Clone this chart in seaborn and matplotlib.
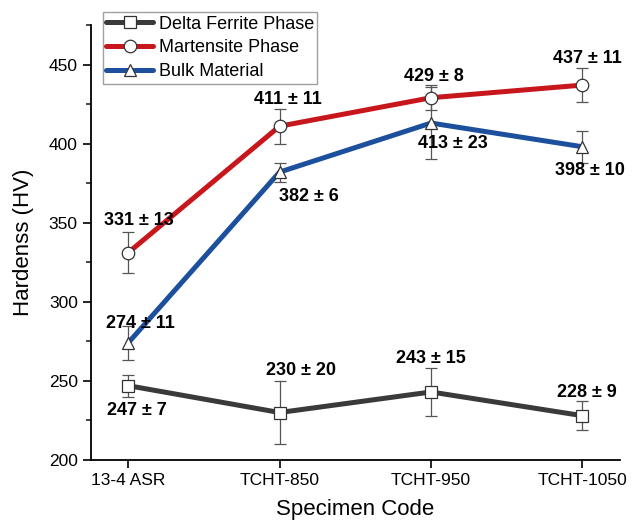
import numpy as np
import pandas as pd
import matplotlib
matplotlib.use('Agg')
import matplotlib.pyplot as plt
import seaborn as sns
from matplotlib.ticker import MultipleLocator

# Data
specimens = ['13-4 ASR', 'TCHT-850', 'TCHT-950', 'TCHT-1050']

delta_mean = [247, 230, 243, 228]
delta_err = [7, 20, 15, 9]

mart_mean = [331, 411, 429, 437]
mart_err = [13, 11, 8, 11]

bulk_mean = [274, 382, 413, 398]
bulk_err = [11, 6, 23, 10]

# label offsets (pixels) from each point
delta_off = [(9, -25), (21, 42), (0, 33), (4, 23)]
mart_off = [(11, 32), (8, 27), (3, 21), (5, 27)]
bulk_off = [(12, 19), (29, -24), (22, -20), (7, -24)]

series = [
    ('Delta Ferrite Phase', delta_mean, delta_err, delta_off, '#3a3a3a', 's'),
    ('Martensite Phase', mart_mean, mart_err, mart_off, '#c8161d', 'o'),
    ('Bulk Material', bulk_mean, bulk_err, bulk_off, '#1c4f9c', '^'),
]

sns.set_theme(style='ticks')
plt.rcParams['font.family'] = ['Liberation Sans', 'DejaVu Sans']

fig = plt.figure(figsize=(6.33, 5.2), dpi=100)
ax = fig.add_axes([0.1438, 0.1154, 0.835, 0.8366])

x = np.arange(len(specimens))
px = 72 / 100.0

for name, mean, err, off, color, marker in series:
    df = pd.DataFrame({'x': x, 'y': mean})
    ax.errorbar(x, mean, yerr=err, fmt='none', ecolor='#555555',
                elinewidth=0.9, capsize=4.5, capthick=0.9, zorder=1.5)
    sns.lineplot(data=df, x='x', y='y', ax=ax, color=color, linewidth=3.6,
                 marker=marker, markersize=9 if marker != 's' else 8.5,
                 markerfacecolor='white', markeredgecolor='#333333',
                 markeredgewidth=0.9, label=name, zorder=2)
    for xi, m, e, (dx, dy) in zip(x, mean, err, off):
        ax.annotate(f'{m} \u00b1 {e}', (xi, m), xytext=(dx * px, dy * px),
                    textcoords='offset points', ha='center', va='center',
                    fontsize=13, fontweight='bold', color='black')

ax.set_xlim(-0.245, 3.245)
ax.set_ylim(200, 475)
ax.set_xticks(x)
ax.set_xticklabels(specimens)
ax.yaxis.set_major_locator(MultipleLocator(50))
ax.yaxis.set_minor_locator(MultipleLocator(25))
ax.tick_params(axis='both', which='major', direction='out', length=6,
               width=1.2, labelsize=12.5, colors='black')
ax.tick_params(axis='y', which='minor', direction='out', length=3.5, width=1.2)
ax.set_xlabel('Specimen Code', fontsize=16, labelpad=8, color='black')
ax.set_ylabel('Hardenss (HV)', fontsize=16, labelpad=11, color='black')

sns.despine(ax=ax)
for s in ['left', 'bottom']:
    ax.spines[s].set_linewidth(1.3)
    ax.spines[s].set_color('black')

leg = ax.legend(loc='upper left', bbox_to_anchor=(0.022, 1.03), fontsize=13,
                frameon=True, fancybox=False, edgecolor='#888888',
                handlelength=2.6, handletextpad=0.3, borderpad=0.2,
                labelspacing=0.38, borderaxespad=0)
leg.get_frame().set_linewidth(1.0)
for t in leg.get_texts():
    t.set_color('black')

fig.savefig('out.png', dpi=100)
